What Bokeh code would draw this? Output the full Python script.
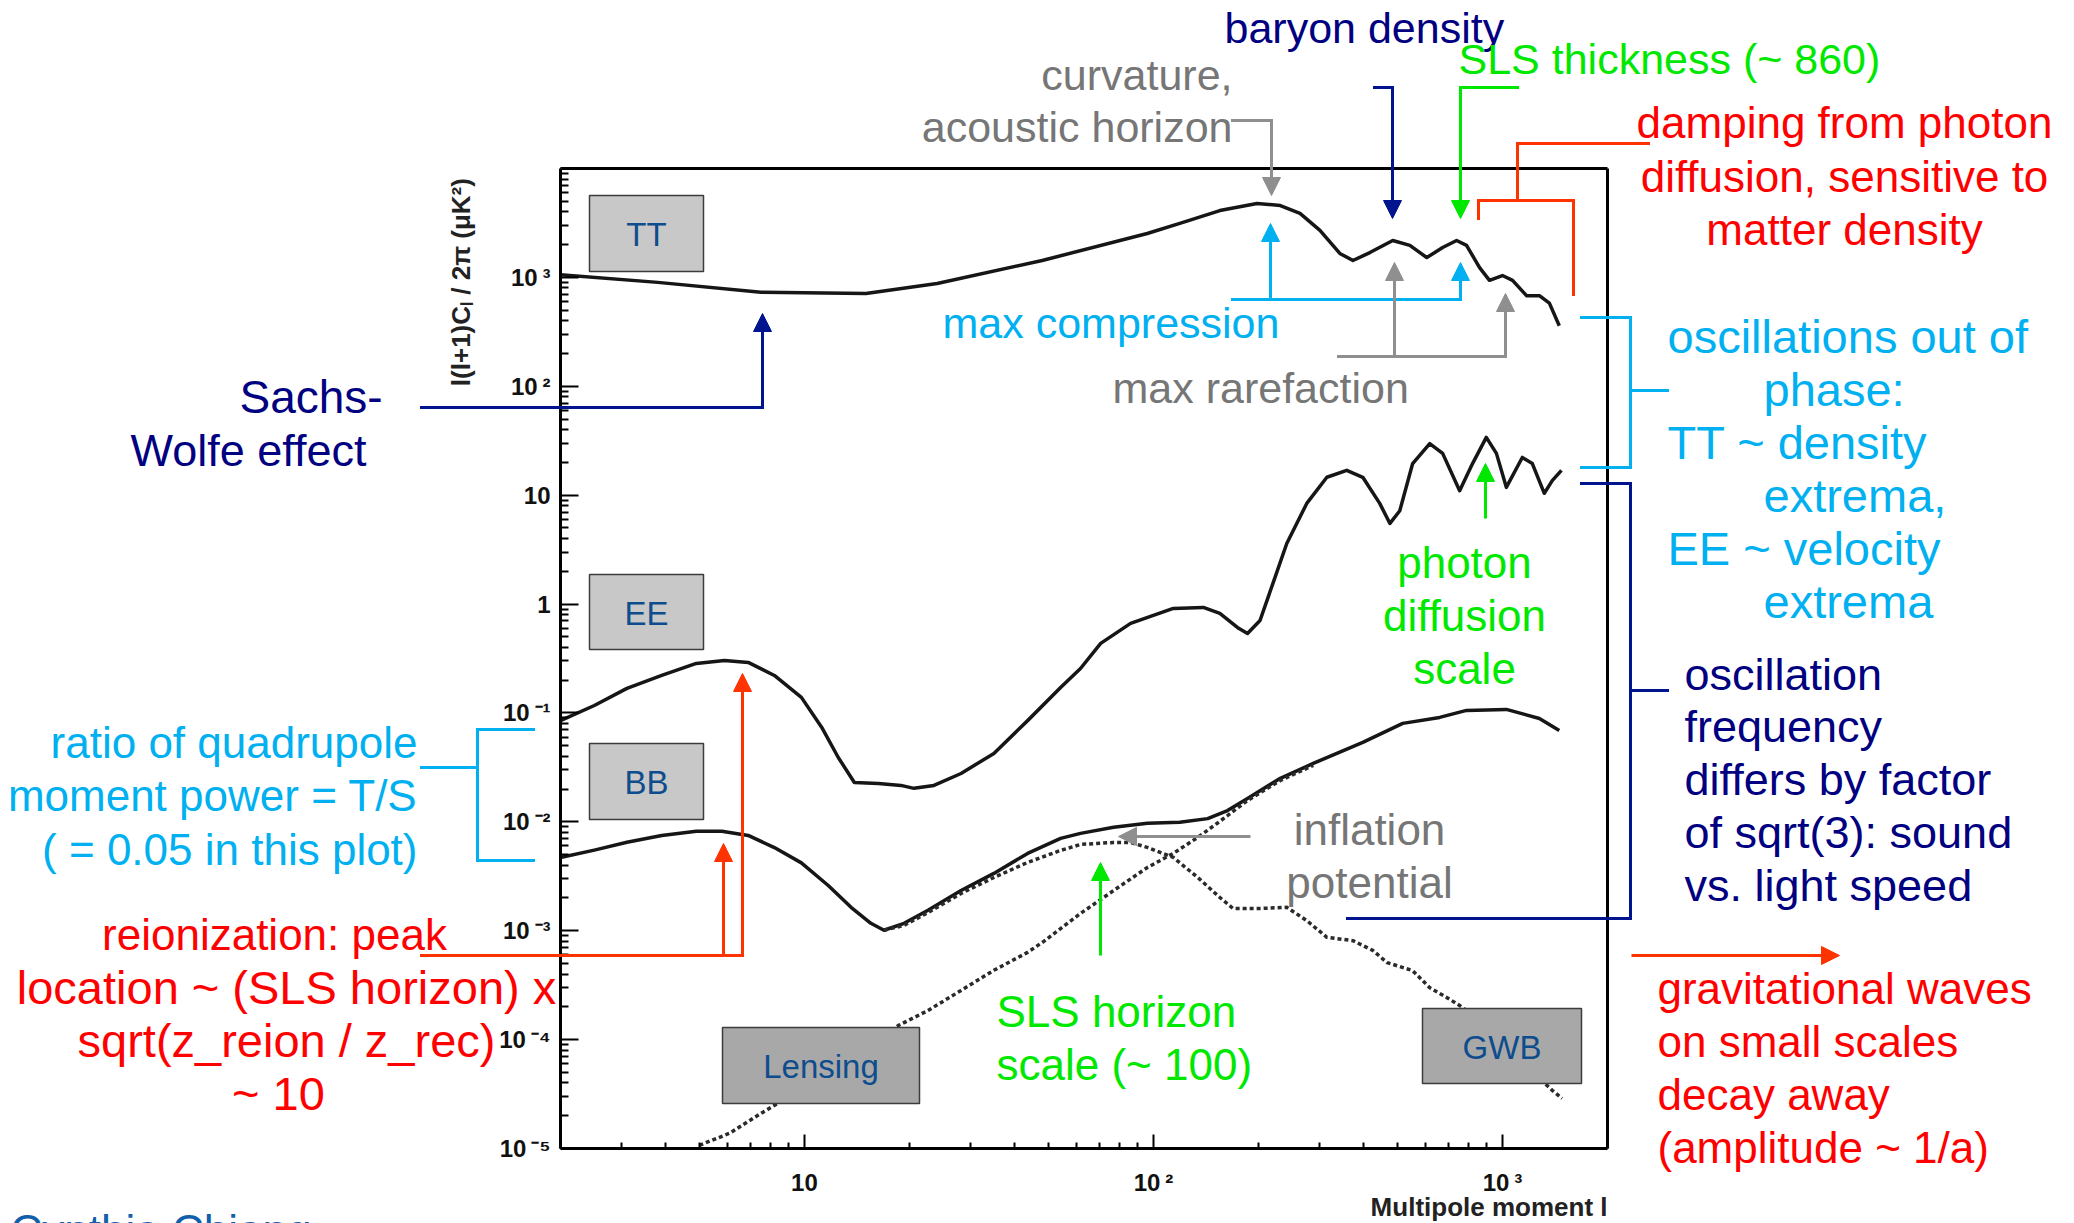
from math import log10, pi

from bokeh.embed import file_html
from bokeh.models import (Arrow, BoxAnnotation, CustomJSTickFormatter, FixedTicker,
                          Label, LogAxis, NormalHead, Range1d)
from bokeh.plotting import figure
from bokeh.resources import INLINE

# ---------------------------------------------------------------------------
# Angular power spectra, l(l+1)C_l/2pi in uK^2, versus multipole l
# ---------------------------------------------------------------------------
tt_l = [2, 3.8, 7.5, 15, 24, 48, 96, 119, 155, 198, 231, 263, 300, 342, 373, 417,
        485, 543, 607, 674, 739, 789, 860, 918, 1000, 1069, 1172, 1276, 1363, 1455]
tt_d = [1060, 900, 730, 710, 880, 1430, 2530, 3130, 4110, 4780, 4570, 3870, 2700, 1660,
        1430, 1690, 2180, 1970, 1520, 1880, 2180, 1970, 1230, 940, 1040, 940, 680, 680,
        580, 360]

ee_l = [2, 2.5, 3.1, 3.9, 4.9, 5.9, 6.9, 8.2, 9.8, 11.2, 12.5, 13.9, 16.3, 18.9, 20.6,
        23.5, 28.1, 34.9, 43.6, 54.2, 61.8, 70.6, 86, 114, 139, 155, 174, 186, 202, 220,
        241, 275, 314, 358, 398, 445, 476, 508, 553, 619, 674, 754, 821, 899, 961, 1026,
        1140, 1218, 1318, 1389, 1476]
ee_d = [0.085, 0.117, 0.168, 0.221, 0.285, 0.303, 0.291, 0.221, 0.139, 0.074, 0.039,
        0.023, 0.0225, 0.0216, 0.0203, 0.0216, 0.0278, 0.0425, 0.085, 0.171, 0.256, 0.435,
        0.664, 0.912, 0.931, 0.82, 0.61, 0.537, 0.706, 1.55, 3.6, 8.4, 14.6, 16.9, 14.6,
        8.4, 5.5, 7.2, 19.5, 29.8, 24.2, 11.0, 19.5, 33.9, 24.2, 11.8, 22.2, 19.5, 10.4,
        13.6, 16.9]

bb_l = [2, 2.5, 3.1, 3.9, 4.9, 5.8, 6.9, 8.2, 9.8, 11.7, 13.6, 15.5, 16.9, 19.3, 22.6,
        28.1, 34.9, 43.6, 54.2, 61.8, 76.9, 96.1, 119, 143, 163, 186, 231, 287, 398, 518,
        661, 789, 1026, 1276, 1455]
bb_d = [0.0047, 0.0055, 0.0065, 0.0075, 0.0082, 0.0082, 0.0075, 0.0058, 0.0042, 0.0026,
        0.00164, 0.00117, 0.00101, 0.00117, 0.00154, 0.00234, 0.00336, 0.00513, 0.00705,
        0.00783, 0.0089, 0.0097, 0.0099, 0.0107, 0.0127, 0.0164, 0.0251, 0.0344, 0.0536,
        0.0802, 0.091, 0.1055, 0.1077, 0.089, 0.069]

# tensor (gravitational-wave background) B-modes
gwb_l = [16.9, 19.3, 22.6, 28.1, 34.9, 43.6, 54.2, 61.8, 76.9, 86, 96.1, 114, 134, 155,
         169, 202, 241, 275, 314, 373, 425, 467, 553, 619, 692, 769, 1048, 1389, 1483]
gwb_d = [0.00101, 0.00112, 0.00147, 0.0022, 0.00308, 0.00424, 0.00546, 0.0062, 0.00647,
         0.00647, 0.00582, 0.00471, 0.00308, 0.00202, 0.0016, 0.0016, 0.00164, 0.00124,
         0.00087, 0.00081, 0.00066, 0.00051, 0.00043, 0.0003, 0.000244, 0.000198,
         0.0000796, 0.0000342, 0.0000288]

# lensing B-modes
lens_l = [5.0, 6.1, 7.5, 8.4, 18.6, 22.6, 28.1, 34.9, 43.6, 48.5, 61.8, 76.9, 96.1, 114,
          134, 152, 163, 186, 231, 287]
lens_d = [1.07e-5, 1.38e-5, 2.1e-5, 2.6e-5, 1.35e-4, 1.85e-4, 2.83e-4, 4.33e-4, 6.33e-4,
          7.98e-4, 1.44e-3, 2.34e-3, 3.81e-3, 5.13e-3, 7.2e-3, 9.66e-3, 0.0114, 0.0157,
          0.024, 0.033]

x_major = [10, 100, 1000]
x_minor = [k * 10 ** n for n in range(0, 4) for k in range(2, 10) if 2 <= k * 10 ** n <= 2000]
y_major = [10.0 ** n for n in range(-5, 5)]
y_minor = [k * 10.0 ** n for n in range(-5, 4) for k in range(2, 10)]

# ---------------------------------------------------------------------------
# Page geometry (pixels): the plotting box sits inside a page-sized frame
# ---------------------------------------------------------------------------
W, H = 2074, 1223
XL, XR, YT, YB = 560, 1607, 168, 1148
L0, L1 = 2.0, 2000.0
D0, D1 = 1e-5, 1e4
BASE_SHIFT = 16   # alphabetic labels are placed this much above the wanted baseline


def ax(px):
    """page x pixel -> multipole l"""
    return 10 ** (log10(L0) + (px - XL) / (XR - XL) * log10(L1 / L0))


def ay(py):
    """page y pixel -> spectrum value"""
    return 10 ** (log10(D1) - (py - YT) / (YB - YT) * log10(D1 / D0))


FONT = "Liberation Sans"
NAVY = "#000080"
NAVY_L = "#001490"
GREY_T = "#767676"
GREY_L = "#8f8f8f"
GREEN = "#00e800"
RED = "#ff0000"
RED_L = "#ff3300"
CYAN = "#00b0f0"
BOXTXT = "#0d4d8d"
CURVE = "#161616"

p = figure(width=W, height=H, x_axis_type="log", y_axis_type="log",
           x_range=Range1d(ax(0), ax(W)), y_range=Range1d(ay(H), ay(0)),
           output_backend="svg", toolbar_location=None,
           min_border=0, min_border_left=0, min_border_right=0,
           min_border_top=0, min_border_bottom=0)
p.title.visible = False
p.grid.visible = False
p.background_fill_color = "white"
p.border_fill_color = "white"
p.outline_line_color = None

sup = CustomJSTickFormatter(code="""
const e = Math.round(Math.log10(tick));
if (e === 0) return "1";
if (e === 1) return "10";
if (e === 4) return "";
const s = {"-": "\u207b", "0": "\u2070", "1": "\u00b9", "2": "\u00b2", "3": "\u00b3",
           "4": "\u2074", "5": "\u2075"};
return "10\u2009" + String(e).split("").map(c => s[c]).join("");
""")

xa = p.xaxis[0]
ya = p.yaxis[0]
xa.fixed_location = D0
xa.bounds = (L0, L1)
ya.fixed_location = L0
ya.bounds = (D0, D1)
for axis, major, minor, tin, tmin in ((xa, x_major, x_minor, 14, 6),
                                      (ya, y_major, y_minor, 18, 8)):
    axis.ticker = FixedTicker(ticks=major, minor_ticks=minor)
    axis.formatter = sup
    axis.axis_line_width = 3
    axis.axis_line_color = "black"
    axis.major_tick_in = tin
    axis.major_tick_out = 0
    axis.minor_tick_in = tmin
    axis.minor_tick_out = 0
    axis.major_tick_line_width = 2
    axis.minor_tick_line_width = 2
    axis.major_label_text_font = FONT
    axis.major_label_text_font_style = "bold"
    axis.major_label_text_font_size = "24px"
    axis.major_label_text_color = "#111111"
xa.major_label_standoff = 20
ya.major_label_standoff = 10

# closing top and right edges of the plotting box
for side, loc, bnd in (("above", D1, (L0, L1)), ("right", L1, (D0, D1))):
    edge = LogAxis(fixed_location=loc, bounds=bnd, ticker=FixedTicker(ticks=[]),
                   axis_line_width=3, axis_line_color="black",
                   major_tick_line_color=None, minor_tick_line_color=None,
                   major_label_text_color=None)
    p.add_layout(edge, side)

# spectra
p.line(tt_l, tt_d, line_color=CURVE, line_width=3.5, line_join="round")
p.line(ee_l, ee_d, line_color=CURVE, line_width=3.5, line_join="round")
p.line(bb_l, bb_d, line_color=CURVE, line_width=3.5, line_join="round")
p.line(gwb_l, gwb_d, line_color="#2a2a2a", line_width=3.5, line_dash="4 3")
p.line(lens_l, lens_d, line_color="#2a2a2a", line_width=3.5, line_dash="4 3")

# axis titles
p.add_layout(Label(x=ax(460), y=ay(278), text="l(l+1)C\u2097 / 2\u03c0  (\u03bcK\u00b2)",
                   angle=pi / 2, text_align="center", text_baseline="middle",
                   text_font=FONT, text_font_style="bold", text_font_size="26px",
                   text_color="#222222"))
p.add_layout(Label(x=ax(1607), y=ay(1222 - BASE_SHIFT), text="Multipole moment l",
                   text_align="right", text_baseline="alphabetic", text_font=FONT,
                   text_font_style="bold", text_font_size="26px", text_color="#222222"))

# spectrum name boxes
boxes = [("TT", 589, 703, 195, 271, "#c8c8c8"),
         ("EE", 589, 703, 574, 649, "#c8c8c8"),
         ("BB", 589, 703, 743, 819, "#c8c8c8"),
         ("Lensing", 722, 919, 1027, 1103, "#a8a8a8"),
         ("GWB", 1422, 1581, 1008, 1083, "#a8a8a8")]
for name, x0, x1, y0, y1, fill in boxes:
    p.add_layout(BoxAnnotation(left=ax(x0), right=ax(x1), top=ay(y0), bottom=ay(y1),
                               fill_color=fill, fill_alpha=1.0,
                               line_color="#3c3c3c", line_width=1.5, line_alpha=1.0))
    p.add_layout(Label(x=ax((x0 + x1) / 2), y=ay((y0 + y1) / 2 + 1), text=name,
                       text_align="center", text_baseline="middle", text_font=FONT,
                       text_font_size="33px", text_color=BOXTXT))

# connector lines and arrows: (page-pixel polyline, colour, arrow head at the end)
connectors = [
    ([(1232, 120), (1271, 120), (1271, 195)], GREY_L, True),
    ([(1374, 87), (1392, 87), (1392, 218)], NAVY_L, True),
    ([(1517, 87), (1460, 87), (1460, 218)], GREEN, True),
    ([(1648, 143), (1517, 143), (1517, 200)], RED_L, False),
    ([(1478, 218), (1478, 200), (1573, 200), (1573, 294)], RED_L, False),
    ([(1232, 299), (1460, 299)], CYAN, False),
    ([(1270, 299), (1270, 223)], CYAN, True),
    ([(1460, 299), (1460, 262)], CYAN, True),
    ([(1338, 356), (1505, 356)], GREY_L, False),
    ([(1394, 356), (1394, 262)], GREY_L, True),
    ([(1505, 356), (1505, 293)], GREY_L, True),
    ([(421, 407), (762, 407), (762, 313)], NAVY_L, True),
    ([(1581, 317), (1630, 317), (1630, 467), (1581, 467)], CYAN, False),
    ([(1630, 390), (1667, 390)], CYAN, False),
    ([(1581, 483), (1630, 483), (1630, 918), (1347, 918)], NAVY_L, False),
    ([(1630, 690), (1667, 690)], NAVY_L, False),
    ([(1631, 955), (1839, 955)], RED_L, True),
    ([(533, 729), (477, 729), (477, 860), (533, 860)], CYAN, False),
    ([(421, 767), (477, 767)], CYAN, False),
    ([(421, 955), (742, 955), (742, 673)], RED_L, True),
    ([(723, 955), (723, 843)], RED_L, True),
    ([(1250, 836), (1118, 836)], GREY_L, True),
    ([(1100, 955), (1100, 862)], GREEN, True),
    ([(1485, 518), (1485, 463)], GREEN, True),
]
for pts, color, head in connectors:
    n = len(pts) - 1
    for i in range(n):
        (xa0, ya0), (xb0, yb0) = pts[i], pts[i + 1]
        last = head and i == n - 1
        end = NormalHead(size=18, fill_color=color, line_color=color, line_width=1) if last else None
        p.add_layout(Arrow(x_start=ax(xa0), y_start=ay(ya0), x_end=ax(xb0), y_end=ay(yb0),
                           start=None, end=end, line_color=color, line_width=3,
                           line_cap="butt" if last else "square"))

# annotation texts: (text, page x, baseline y, alignment, colour, font px)
texts = [
    ("baryon density", 1224, 43, "left", NAVY, 43),
    ("curvature,", 1232, 90, "right", GREY_T, 43),
    ("acoustic horizon", 1232, 142, "right", GREY_T, 43),
    ("SLS thickness (~ 860)", 1458, 74, "left", GREEN, 43),
    ("damping from photon", 1844, 138, "center", RED, 44),
    ("diffusion, sensitive to", 1844, 192, "center", RED, 44),
    ("matter density", 1844, 245, "center", RED, 44),
    ("max compression", 942, 338, "left", CYAN, 43),
    ("max rarefaction", 1112, 403, "left", GREY_T, 43),
    ("oscillations out of", 1667, 352, "left", CYAN, 47),
    ("phase:", 1763, 405, "left", CYAN, 47),
    ("TT ~ density", 1667, 458, "left", CYAN, 47),
    ("extrema,", 1763, 511, "left", CYAN, 47),
    ("EE ~ velocity", 1667, 564, "left", CYAN, 47),
    ("extrema", 1763, 617, "left", CYAN, 47),
    ("Sachs-", 239, 412, "left", NAVY, 46),
    ("Wolfe effect", 130, 466, "left", NAVY, 45),
    ("ratio of quadrupole", 417, 758, "right", CYAN, 44),
    ("moment power = T/S", 417, 811, "right", CYAN, 44),
    ("( = 0.05 in this plot)", 417, 865, "right", CYAN, 44),
    ("reionization: peak", 274, 950, "center", RED, 44),
    ("location ~ (SLS horizon) x", 286, 1003, "center", RED, 47),
    ("sqrt(z_reion / z_rec)", 286, 1056, "center", RED, 47),
    ("~ 10", 278, 1109, "center", RED, 47),
    ("photon", 1464, 578, "center", GREEN, 44),
    ("diffusion", 1464, 631, "center", GREEN, 44),
    ("scale", 1464, 684, "center", GREEN, 44),
    ("oscillation", 1684, 690, "left", NAVY, 45),
    ("frequency", 1684, 742, "left", NAVY, 45),
    ("differs by factor", 1684, 795, "left", NAVY, 45),
    ("of sqrt(3): sound", 1684, 848, "left", NAVY, 45),
    ("vs. light speed", 1684, 901, "left", NAVY, 45),
    ("inflation", 1369, 845, "center", GREY_T, 44),
    ("potential", 1369, 898, "center", GREY_T, 44),
    ("SLS horizon", 996, 1027, "left", GREEN, 44),
    ("scale (~ 100)", 996, 1080, "left", GREEN, 44),
    ("gravitational waves", 1657, 1004, "left", RED, 44),
    ("on small scales", 1657, 1057, "left", RED, 44),
    ("decay away", 1657, 1110, "left", RED, 44),
    ("(amplitude ~ 1/a)", 1657, 1163, "left", RED, 44),
    ("Cynthia Chiang", 10, 1246, "left", "#1060aa", 44),
]
for text, x, y, align, color, size in texts:
    p.add_layout(Label(x=ax(x), y=ay(y - BASE_SHIFT), text=text, text_align=align,
                       text_baseline="alphabetic", text_font=FONT,
                       text_font_size=f"{size}px", text_color=color))

open("out.html", "w").write(file_html(p, INLINE))
